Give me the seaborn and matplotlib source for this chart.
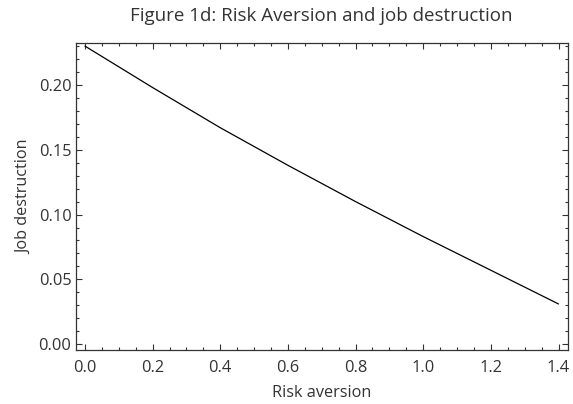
import matplotlib
matplotlib.use("Agg")
import pandas as pd
import seaborn as sns
from matplotlib import pyplot as plt
from matplotlib.ticker import MultipleLocator

# values
risk_aversion = [0.0, 0.2, 0.4, 0.6, 0.8, 1.0, 1.2, 1.4]
job_destruction = [0.230, 0.198, 0.167, 0.138, 0.110, 0.083, 0.057, 0.031]

df = pd.DataFrame({"Risk aversion": risk_aversion,
                   "Job destruction": job_destruction})

sns.set_style("white")
plt.rcParams["font.family"] = ["Open Sans", "DejaVu Sans"]
text_col = "#333333"

fig = plt.figure(figsize=(5.73, 4.04), dpi=100)
ax = fig.add_axes([0.132, 0.134, 0.859, 0.760])

sns.lineplot(data=df, x="Risk aversion", y="Job destruction",
             color="black", linewidth=0.9, ax=ax)

ax.set_xlim(-0.0275, 1.4275)
ax.set_ylim(-0.0044, 0.2325)

ax.xaxis.set_major_locator(MultipleLocator(0.2))
ax.xaxis.set_minor_locator(MultipleLocator(0.05))
ax.yaxis.set_major_locator(MultipleLocator(0.05))
ax.yaxis.set_minor_locator(MultipleLocator(0.01))
ax.xaxis.set_major_formatter(lambda v, p: f"{v:.1f}")
ax.yaxis.set_major_formatter(lambda v, p: f"{v:.2f}")

ax.tick_params(which="both", direction="in", top=True, right=True,
               bottom=True, left=True, color="#333333", width=0.8,
               labelsize=11.8, labelcolor=text_col)
ax.tick_params(which="major", length=4.5)
ax.tick_params(which="minor", length=2.5)
ax.tick_params(axis="x", pad=7.5)
ax.tick_params(axis="y", pad=3)

for s in ax.spines.values():
    s.set_color("#333333")
    s.set_linewidth(0.9)

ax.set_xlabel("Risk aversion", fontsize=11.7, color=text_col)
ax.set_ylabel("Job destruction", fontsize=11.7, color=text_col)
ax.xaxis.set_label_coords(0.5, -0.116)
ax.yaxis.set_label_coords(-0.089, 0.5)
ax.set_title("Figure 1d: Risk Aversion and job destruction",
             fontsize=13.5, color=text_col, y=1.045)

fig.savefig("out.png", dpi=100)
